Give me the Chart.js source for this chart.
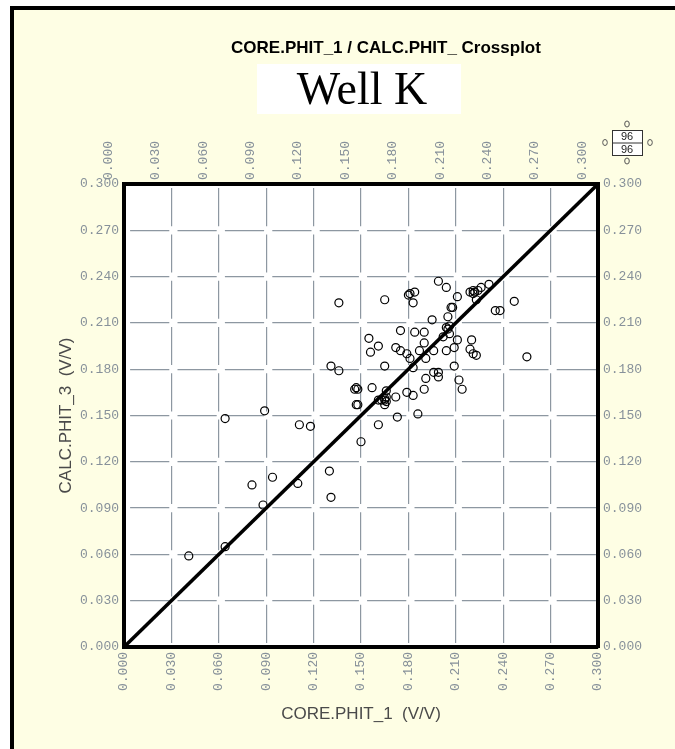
<!DOCTYPE html>
<html>
<head>
<meta charset="utf-8">
<title>CORE.PHIT_1 / CALC.PHIT_ Crossplot</title>
<script src="https://cdn.jsdelivr.net/npm/chart.js@4/dist/chart.umd.min.js"></script>
<style>
  html, body { margin: 0; padding: 0; background: #ffffff; }
  canvas { display: block; }
</style>
</head>
<body>
<canvas id="crossplot" width="675" height="749"></canvas>
<script>
// Core porosity (x) against calculated porosity (y), both in V/V
const coreX = [
  0.041, 0.064, 0.088, 0.081, 0.094, 0.110, 0.064, 0.089, 0.111, 0.118,
  0.130, 0.131, 0.131, 0.136, 0.136, 0.150, 0.146, 0.148, 0.147, 0.148,
  0.157, 0.161, 0.161, 0.163, 0.166, 0.166, 0.165, 0.166, 0.165, 0.172,
  0.173, 0.179, 0.183, 0.186, 0.190, 0.191, 0.165, 0.183, 0.155, 0.161,
  0.156, 0.172, 0.175, 0.179, 0.181, 0.187, 0.190, 0.196, 0.191, 0.175,
  0.184, 0.190, 0.195, 0.165, 0.180, 0.184, 0.183, 0.199, 0.204, 0.211,
  0.219, 0.222, 0.221, 0.224, 0.226, 0.231, 0.223, 0.235, 0.238, 0.247,
  0.207, 0.208, 0.205, 0.204, 0.206, 0.202, 0.206, 0.211, 0.220, 0.209,
  0.204, 0.219, 0.221, 0.223, 0.209, 0.255, 0.196, 0.199, 0.199, 0.212,
  0.214, 0.165, 0.221, 0.147, 0.205, 0.181
];
const calcY = [
  0.059, 0.065, 0.092, 0.105, 0.110, 0.106, 0.148, 0.153, 0.144, 0.143,
  0.114, 0.097, 0.182, 0.179, 0.223, 0.133, 0.167, 0.167, 0.157, 0.157,
  0.168, 0.144, 0.160, 0.160, 0.166, 0.162, 0.161, 0.159, 0.157, 0.162,
  0.149, 0.165, 0.163, 0.151, 0.167, 0.174, 0.182, 0.181, 0.200, 0.195,
  0.191, 0.194, 0.192, 0.190, 0.187, 0.192, 0.197, 0.192, 0.187, 0.205,
  0.204, 0.204, 0.212, 0.225, 0.228, 0.230, 0.223, 0.237, 0.233, 0.227,
  0.230, 0.230, 0.229, 0.231, 0.233, 0.235, 0.225, 0.218, 0.218, 0.224,
  0.220, 0.220, 0.214, 0.207, 0.208, 0.201, 0.203, 0.199, 0.199, 0.194,
  0.192, 0.193, 0.190, 0.189, 0.182, 0.188, 0.178, 0.178, 0.175, 0.173,
  0.167, 0.160, 0.231, 0.168, 0.206, 0.229
];
// Axis ticks shared by all four sides
const tickValues = [0.000, 0.030, 0.060, 0.090, 0.120, 0.150, 0.180, 0.210, 0.240, 0.270, 0.300];
// End points of the 1:1 reference line
const unityLine = [0.000, 0.300];
// Point counts shown in the corner key
const keyCounts = ['96', '96'];

const CREAM = '#fefee4';
const GRID = '#8d97a1';
const TICK_COLOR = '#87919a';
const tickFont = { family: '"Liberation Mono", "DejaVu Sans Mono", monospace', size: 13 };
const axisTitleFont = { family: '"Liberation Sans", Arial, sans-serif', size: 17 };

function useTicks(scale) {
  scale.ticks = tickValues.map(v => ({ value: v }));
}
const fmt = v => Number(v).toFixed(3);

function baseScale(position, extra) {
  return Object.assign({
    type: 'linear',
    position: position,
    min: 0,
    max: 0.3,
    afterBuildTicks: useTicks,
    ticks: { autoSkip: false, color: TICK_COLOR, font: tickFont, callback: fmt },
    grid: { display: false, drawTicks: false },
    border: { display: true, color: '#000000', width: 4 }
  }, extra);
}

// Page decoration: frame, cream panel, white plot area, headings and corner key
const decor = {
  id: 'decor',
  beforeDraw(chart) {
    const { ctx, chartArea: a, width, height } = chart;
    ctx.save();
    ctx.fillStyle = '#ffffff';
    ctx.fillRect(0, 0, width, height);
    ctx.fillStyle = CREAM;
    ctx.fillRect(12, 8, width - 12, height - 8);
    ctx.fillStyle = '#ffffff';
    ctx.fillRect(a.left, a.top, a.right - a.left, a.bottom - a.top);
    ctx.restore();
  },
  afterDraw(chart) {
    const { ctx, width, height } = chart;
    ctx.save();
    // outer frame (left and top edges)
    ctx.fillStyle = '#000000';
    ctx.fillRect(10, 6, 4, height - 6);
    ctx.fillRect(10, 6, width - 10, 4);

    // main heading
    ctx.fillStyle = '#000000';
    ctx.textAlign = 'center';
    ctx.textBaseline = 'alphabetic';
    ctx.font = 'bold 17px "Liberation Sans", Arial, sans-serif';
    ctx.fillText('CORE.PHIT_1 / CALC.PHIT_ Crossplot', 386, 53);

    // well name on a white panel
    ctx.fillStyle = '#ffffff';
    ctx.fillRect(257, 64, 204, 50);
    ctx.fillStyle = '#000000';
    ctx.font = '46px "Liberation Serif", "Times New Roman", serif';
    ctx.fillText('Well K', 362, 104);

    // corner key: point counts with small markers around
    const kx = 612, ky = 130, kw = 30, kh = 25;
    ctx.fillStyle = '#ffffff';
    ctx.fillRect(kx, ky, kw, kh);
    ctx.strokeStyle = '#333333';
    ctx.lineWidth = 1;
    ctx.strokeRect(kx + 0.5, ky + 0.5, kw, kh);
    ctx.beginPath();
    ctx.moveTo(kx, ky + kh / 2 + 0.5);
    ctx.lineTo(kx + kw, ky + kh / 2 + 0.5);
    ctx.stroke();
    ctx.fillStyle = '#222222';
    ctx.font = '11px "Liberation Sans", Arial, sans-serif';
    ctx.textBaseline = 'middle';
    ctx.fillText(keyCounts[0], kx + kw / 2, ky + kh / 4 + 0.5);
    ctx.fillText(keyCounts[1], kx + kw / 2, ky + 3 * kh / 4 + 1);
    const marks = [[kx + kw / 2, ky - 6], [kx + kw / 2, ky + kh + 6], [kx - 7, ky + kh / 2], [kx + kw + 8, ky + kh / 2]];
    ctx.strokeStyle = '#555555';
    marks.forEach(([mx, my]) => {
      ctx.beginPath();
      ctx.ellipse(mx, my, 2.3, 3, 0, 0, Math.PI * 2);
      ctx.stroke();
    });
    ctx.restore();
  }
};

new Chart(document.getElementById('crossplot'), {
  type: 'scatter',
  data: {
    datasets: [
      {
        label: '1:1',
        data: unityLine.map(v => ({ x: v, y: v })),
        showLine: true,
        borderColor: '#000000',
        borderWidth: 3.5,
        pointRadius: 0,
        order: 0
      },
      {
        label: 'CORE.PHIT_1 vs CALC.PHIT_3',
        data: coreX.map((x, i) => ({ x: x, y: calcY[i] })),
        pointStyle: 'circle',
        pointRadius: 4,
        borderWidth: 1.2,
        borderColor: '#000000',
        backgroundColor: 'rgba(0,0,0,0)',
        order: 1
      }
    ]
  },
  options: {
    responsive: false,
    devicePixelRatio: 1,
    animation: false,
    layout: { padding: 0 },
    plugins: { legend: { display: false }, tooltip: { enabled: false }, title: { display: false } },
    scales: {
      x: baseScale('bottom', {
        afterFit: s => { s.height = 102; },
        ticks: { autoSkip: false, color: TICK_COLOR, font: tickFont, callback: fmt, minRotation: 90, maxRotation: 90, padding: 5 },
        grid: { display: true, drawTicks: false, color: GRID, lineWidth: 1.2 },
        border: { display: true, color: '#000000', width: 4, dash: [38.1, 8.2], dashOffset: 42.2 },
        title: { display: true, text: 'CORE.PHIT_1  (V/V)', color: '#4a4a4a', font: axisTitleFont, padding: { top: 0, bottom: 24 } }
      }),
      x2: baseScale('top', {
        afterFit: s => { s.height = 184; },
        ticks: { autoSkip: false, color: TICK_COLOR, font: tickFont, callback: fmt, minRotation: 90, maxRotation: 90, padding: 4 }
      }),
      y: baseScale('left', {
        afterFit: s => { s.width = 124; },
        ticks: { autoSkip: false, color: TICK_COLOR, font: tickFont, callback: fmt, padding: 5 },
        grid: { display: true, drawTicks: false, color: GRID, lineWidth: 1.2 },
        border: { display: true, color: '#000000', width: 4, dash: [39.2, 8.2], dashOffset: 43.3 },
        title: { display: true, text: 'CALC.PHIT_3  (V/V)', color: '#4a4a4a', font: axisTitleFont, padding: { top: 56, bottom: 0 } }
      }),
      y2: baseScale('right', {
        afterFit: s => { s.width = 77; },
        ticks: { autoSkip: false, color: TICK_COLOR, font: tickFont, callback: fmt, padding: 5 }
      })
    }
  },
  plugins: [decor]
});
</script>
</body>
</html>
